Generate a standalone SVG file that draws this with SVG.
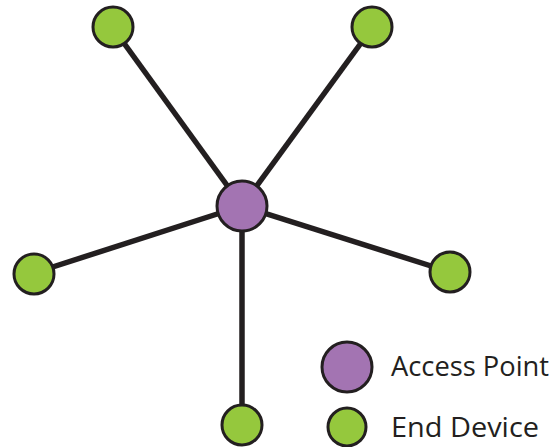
<svg xmlns="http://www.w3.org/2000/svg" width="555" height="447" viewBox="0 0 555 447">
  <style>
    .link { stroke: #231f20; stroke-width: 5.5; fill: none; }
    .ap { fill: #a374b2; stroke: #231f20; stroke-width: 3; }
    .dev { fill: #95c83d; stroke: #231f20; stroke-width: 3; }
    .label { font-family: "Open Sans", "Liberation Sans", sans-serif; font-size: 28px; fill: #231f20; }
  </style>
  <rect width="555" height="447" fill="#ffffff"/>
  <g id="connectors">
    <line class="link" x1="242" y1="206" x2="113" y2="28"/>
    <line class="link" x1="242" y1="206" x2="372" y2="28"/>
    <line class="link" x1="242" y1="206" x2="34" y2="273"/>
    <line class="link" x1="242" y1="206" x2="450" y2="272"/>
    <line class="link" x1="242" y1="206" x2="242" y2="426"/>
  </g>
  <g id="device-top-left"><circle class="dev" cx="113" cy="27" r="20"/></g>
  <g id="device-top-right"><circle class="dev" cx="372" cy="27" r="20"/></g>
  <g id="device-left"><circle class="dev" cx="34" cy="274" r="20"/></g>
  <g id="device-right"><circle class="dev" cx="450" cy="272" r="20"/></g>
  <g id="device-bottom"><circle class="dev" cx="242" cy="425" r="20"/></g>
  <g id="access-point"><circle class="ap" cx="242" cy="206" r="25"/></g>
  <g id="legend">
    <circle class="ap" cx="347" cy="367" r="25"/>
    <text class="label" x="391" y="376" textLength="158" lengthAdjust="spacingAndGlyphs">Access Point</text>
    <circle class="dev" cx="347" cy="427" r="19"/>
    <text class="label" x="391" y="437" textLength="148" lengthAdjust="spacingAndGlyphs">End Device</text>
  </g>
</svg>
